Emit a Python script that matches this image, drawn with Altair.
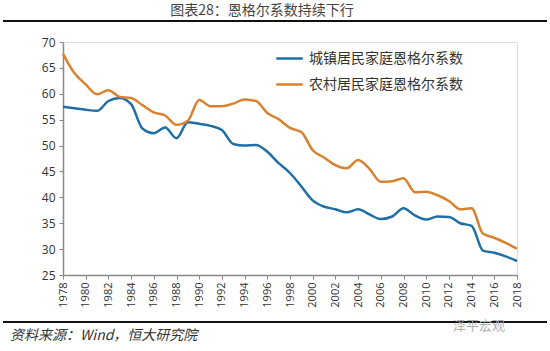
import altair as alt
import pandas as pd

years = list(range(1978, 2019))
urban = [57.5, 57.2, 56.9, 56.7, 58.6, 59.2, 58.0, 53.3, 52.4, 53.5, 51.4, 54.5, 54.2, 53.8,
         53.0, 50.3, 50.0, 50.1, 48.8, 46.6, 44.7, 42.1, 39.4, 38.2, 37.7, 37.1, 37.7, 36.7,
         35.8, 36.3, 37.9, 36.5, 35.7, 36.3, 36.2, 35.0, 34.5, 29.7, 29.3, 28.6, 27.7]
rural = [67.7, 64.0, 61.8, 59.9, 60.7, 59.4, 59.2, 57.8, 56.4, 55.8, 54.0, 54.8, 58.8, 57.6,
         57.6, 58.1, 58.9, 58.6, 56.3, 55.1, 53.4, 52.6, 49.1, 47.7, 46.2, 45.6, 47.2, 45.5,
         43.0, 43.1, 43.7, 41.0, 41.1, 40.4, 39.3, 37.7, 37.9, 33.0, 32.2, 31.2, 30.1]
series_names = ["城镇居民家庭恩格尔系数", "农村居民家庭恩格尔系数"]
series_colors = ["#1F6EA6", "#D8822F"]
x_ticks = list(range(1978, 2019, 2))
y_ticks = list(range(25, 71, 5))

title_text = "图表28：恩格尔系数持续下行"
source_text = "资料来源：Wind，恒大研究院"
watermark_text = "泽平宏观"

rows = []
for name, vals in zip(series_names, [urban, rural]):
    for y, v in zip(years, vals):
        rows.append({"year": y, "value": v, "series": name})
df = pd.DataFrame(rows)

W, H = 454, 233

lines = alt.Chart(df).mark_line(strokeWidth=2.5, interpolate="monotone").encode(
    x=alt.X("year:Q", scale=alt.Scale(domain=[1978, 2018], nice=False, zero=False),
            axis=alt.Axis(values=x_ticks, format="d", labelAngle=270, labelAlign="right",
                          labelBaseline="middle", title=None, grid=False,
                          domainColor="#8a8a8a", domainWidth=1.5, tickColor="#8a8a8a",
                          tickSize=4, labelFont="Open Sans", labelFontSize=11,
                          labelColor="#333333", labelPadding=3, labelOverlap=False)),
    y=alt.Y("value:Q", scale=alt.Scale(domain=[25, 70], nice=False, zero=False),
            axis=alt.Axis(values=y_ticks, title=None, grid=False, domainColor="#8a8a8a",
                          domainWidth=1.5, tickColor="#8a8a8a", tickSize=4,
                          labelFont="Open Sans", labelFontSize=12, labelColor="#333333",
                          labelPadding=4)),
    color=alt.Color("series:N", scale=alt.Scale(domain=series_names, range=series_colors),
                    sort=series_names,
                    legend=alt.Legend(title=None, orient="none", legendX=212, legendY=2,
                                      symbolType="stroke", symbolSize=700,
                                      symbolStrokeWidth=2.5, labelFont="Noto Sans CJK SC",
                                      labelFontSize=14, labelColor="#333333",
                                      rowPadding=4, labelOffset=5)),
)

title_mark = alt.Chart(pd.DataFrame({"t": [title_text]})).mark_text(
    font="Noto Sans CJK SC", fontSize=14, color="#444444", align="center", baseline="middle"
).encode(text="t:N", x=alt.value(262 - 63), y=alt.value(11 - 42))

source_mark = alt.Chart(pd.DataFrame({"t": [source_text]})).mark_text(
    font="Noto Sans CJK SC", fontSize=14, color="#333333", align="left", baseline="middle",
    fontStyle="italic"
).encode(text="t:N", x=alt.value(10 - 63), y=alt.value(336 - 42))

wm_mark = alt.Chart(pd.DataFrame({"t": [watermark_text]})).mark_text(
    font="Noto Sans CJK SC", fontSize=13, color="#b0b0b0", align="left", baseline="middle"
).encode(text="t:N", x=alt.value(453 - 63), y=alt.value(326 - 42))

top_rule = alt.Chart(pd.DataFrame({"a": [0]})).mark_rule(color="#111111", strokeWidth=2).encode(
    x=alt.value(3 - 63), x2=alt.value(547 - 63), y=alt.value(21 - 42))
bot_rule = alt.Chart(pd.DataFrame({"a": [0]})).mark_rule(color="#111111", strokeWidth=2).encode(
    x=alt.value(3 - 63), x2=alt.value(547 - 63), y=alt.value(322 - 42))

chart = alt.layer(top_rule, bot_rule, lines, title_mark, source_mark, wm_mark).properties(
    width=W, height=H,
    autosize=alt.AutoSizeParams(type="none"),
    padding={"left": 63, "top": 42, "right": 33, "bottom": 76},
).configure_view(stroke=None).configure(background="white")

chart.save("out.html", embed_options={"renderer": "svg", "actions": False})
